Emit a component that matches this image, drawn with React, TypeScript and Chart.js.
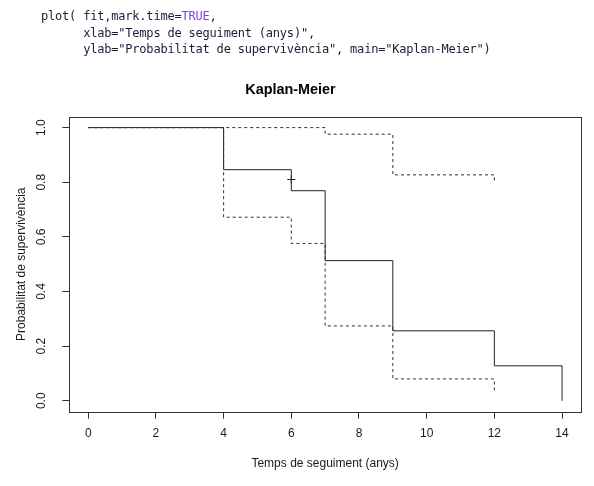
import React, { useEffect, useRef } from "react";
import { Chart, registerables } from "chart.js";

Chart.register(...registerables);

// Kaplan-Meier estimate (step function, value after each time)
const times = [0, 4, 6, 7, 9, 12, 14];
const survival = [1, 0.846, 0.769, 0.513, 0.256, 0.128, 0];

// 95% confidence band
const ciTimes = [0, 4, 6, 7, 9, 12];
const upperCI = [1, 1, 1, 0.976, 0.827, 0.805];
const lowerCI = [1, 0.672, 0.576, 0.274, 0.08, 0.026];

// censored observation marks
const censorTimes = [6];
const censorSurv = [0.81];

const xTicks = [0, 2, 4, 6, 8, 10, 12, 14];
const xTickLabels = ["0", "2", "4", "6", "8", "10", "12", "14"];
const yTicks = [0, 0.2, 0.4, 0.6, 0.8, 1.0];
const yTickLabels = ["0.0", "0.2", "0.4", "0.6", "0.8", "1.0"];

const mainTitle = "Kaplan-Meier";
const xTitle = "Temps de seguiment (anys)";
const yTitle = "Probabilitat de supervivència";

const SANS = "'Liberation Sans', Arial, Helvetica, sans-serif";
const INK = "#1a1a1a";

const boxPlugin = {
  id: "rbox",
  afterDraw(chart: any) {
    const { ctx, chartArea: a } = chart;
    ctx.save();
    ctx.strokeStyle = "#333";
    ctx.lineWidth = 1;
    const l = Math.round(a.left);
    const t = Math.round(a.top);
    ctx.strokeRect(l + 0.5, t + 0.5, Math.round(a.right - l), Math.round(a.bottom - t));
    ctx.restore();
  },
};

export default function App() {
  const ref = useRef<HTMLCanvasElement | null>(null);

  useEffect(() => {
    if (!ref.current) return;
    const pts = (xs: number[], ys: number[]) => xs.map((x, i) => ({ x, y: ys[i] }));
    const chart = new Chart(ref.current, {
      type: "line",
      data: {
        datasets: [
          {
            label: "upper",
            data: pts(ciTimes, upperCI),
            stepped: "before",
            borderColor: "#333",
            borderWidth: 1,
            borderDash: [3, 3],
            pointRadius: 0,
            fill: false,
          },
          {
            label: "lower",
            data: pts(ciTimes, lowerCI),
            stepped: "before",
            borderColor: "#333",
            borderWidth: 1,
            borderDash: [3, 3],
            pointRadius: 0,
            fill: false,
          },
          {
            label: "KM",
            data: pts(times, survival),
            stepped: "before",
            borderColor: "#222",
            borderWidth: 1,
            pointRadius: 0,
            fill: false,
          },
          {
            label: "censor",
            data: pts(censorTimes, censorSurv),
            showLine: false,
            pointStyle: "cross",
            pointRadius: 4,
            pointBorderColor: "#222",
            pointBorderWidth: 1,
            borderColor: "#222",
          },
        ],
      } as any,
      options: {
        animation: false,
        responsive: false,
        maintainAspectRatio: false,
        events: [],
        layout: { padding: { left: 0, right: 13, top: 0, bottom: 0 } },
        plugins: {
          legend: { display: false },
          tooltip: { enabled: false },
          title: {
            display: true,
            text: mainTitle,
            color: "#000",
            font: { family: SANS, size: 14.4, weight: "bold" },
            padding: { top: 81.5, bottom: 17.9 },
          },
        },
        scales: {
          x: {
            type: "linear",
            min: -0.56,
            max: 14.56,
            afterBuildTicks: (s: any) => {
              s.ticks = xTicks.map((v) => ({ value: v }));
            },
            afterFit: (s: any) => {
              s.height = 74.3;
            },
            border: { display: false },
            grid: {
              display: true,
              drawOnChartArea: false,
              drawTicks: true,
              tickLength: 7,
              tickColor: "#333",
              color: "#333",
            },
            ticks: {
              autoSkip: false,
              maxRotation: 0,
              minRotation: 0,
              padding: 8,
              color: INK,
              font: { family: SANS, size: 12 },
              callback: (_v: any, i: number) => xTickLabels[i],
            },
            title: {
              display: true,
              text: xTitle,
              color: INK,
              font: { family: SANS, size: 12 },
              padding: { top: 0, bottom: 14.8 },
            },
          },
          y: {
            type: "linear",
            min: -0.04,
            max: 1.04,
            afterBuildTicks: (s: any) => {
              s.ticks = yTicks.map((v) => ({ value: v }));
            },
            afterFit: (s: any) => {
              s.width = 69.3;
            },
            border: { display: false },
            grid: {
              display: true,
              drawOnChartArea: false,
              drawTicks: true,
              tickLength: 7,
              tickColor: "#333",
              color: "#333",
            },
            ticks: {
              autoSkip: false,
              minRotation: 90,
              maxRotation: 90,
              crossAlign: "center",
              padding: 12.7,
              color: INK,
              font: { family: SANS, size: 12 },
              callback: (_v: any, i: number) => yTickLabels[i],
            },
            title: {
              display: true,
              text: yTitle,
              color: INK,
              font: { family: SANS, size: 12 },
              padding: { top: 14.5, bottom: 0 },
            },
          },
        },
      } as any,
      plugins: [boxPlugin],
    });
    return () => chart.destroy();
  }, []);

  const code: React.CSSProperties = {
    position: "absolute",
    left: 41,
    top: 8.4,
    margin: 0,
    fontFamily: "'DejaVu Sans Mono', 'Liberation Mono', monospace",
    fontSize: 12,
    letterSpacing: "-0.2px",
    lineHeight: "16.3px",
    color: "#1c1c3c",
    whiteSpace: "pre",
  };

  return (
    <div style={{ position: "fixed", left: 0, top: 0, width: 594, height: 486, background: "#fff", overflow: "hidden" }}>
      <canvas ref={ref} width={594} height={486} style={{ position: "absolute", left: 0, top: 0, width: 594, height: 486 }} />
      <pre style={code}>
        {"plot( fit,mark.time="}
        <span style={{ color: "#7d45dd" }}>TRUE</span>
        {",\n      xlab=\"Temps de seguiment (anys)\",\n      ylab=\"Probabilitat de supervivència\", main=\"Kaplan-Meier\")"}
      </pre>
    </div>
  );
}
